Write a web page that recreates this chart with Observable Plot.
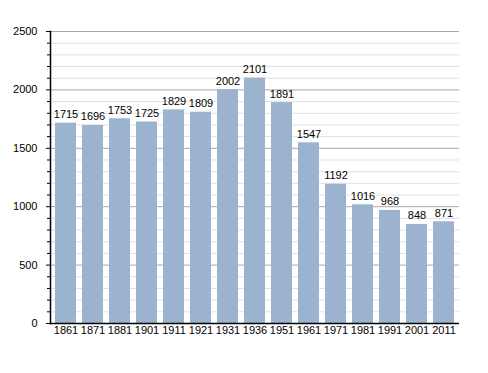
<!DOCTYPE html>
<html><head><meta charset="utf-8">
<script src="https://cdn.jsdelivr.net/npm/d3@7"></script>
<script src="https://cdn.jsdelivr.net/npm/@observablehq/plot@0.6"></script>
<style>body{margin:0;background:#fff;font-family:"Liberation Sans",Arial,sans-serif}</style>
</head><body><div id="chart"></div>
<script>
const years = ["1861","1871","1881","1901","1911","1921","1931","1936","1951","1961","1971","1981","1991","2001","2011"];
const population = [1715,1696,1753,1725,1829,1809,2002,2101,1891,1547,1192,1016,968,848,871];
const majorTicks = [0,500,1000,1500,2000,2500];
const minorTicks = d3.range(0,2501,100).filter(v => v % 500 !== 0);

const data = years.map((y,i) => ({year:y, value:population[i]}));

const chart = Plot.plot({
  width: 488, height: 373,
  marginLeft: 50, marginRight: 29, marginTop: 31, marginBottom: 50,
  style: {fontFamily: '"Liberation Sans", Arial, sans-serif', fontSize: "11px", color: "#000", background: "#fff"},
  x: {domain: years, paddingInner: 0.23, paddingOuter: 0.03, label: null, tickSize: 0, tickPadding: 3},
  y: {domain: [0,2500], label: null},
  marks: [
    Plot.ruleY(minorTicks, {stroke: "#e0e0e0", strokeWidth: 1}),
    Plot.ruleY(majorTicks.filter(v=>v>0), {stroke: "#a8a8a8", strokeWidth: 1}),
    Plot.barY(data, {x: "year", y: "value", fill: "#9cb3cf"}),
    Plot.text(data, {x: "year", y: "value", text: d => String(d.value), lineAnchor: "bottom", dy: -5, fontSize: 11, fill: "#000"}),
    Plot.axisY({ticks: majorTicks, tickSize: 4, tickPadding: 9, fontSize: 11, tickFormat: d3.format("d"), label: null}),
    Plot.axisY({ticks: minorTicks, tickSize: 3, tickFormat: () => "", label: null}),
    Plot.ruleY([0], {stroke: "#000", strokeWidth: 1.5}),
    Plot.frame({anchor: "left", stroke: "#000", strokeWidth: 1.5})
  ]
});
document.getElementById("chart").appendChild(chart);
</script></body></html>
